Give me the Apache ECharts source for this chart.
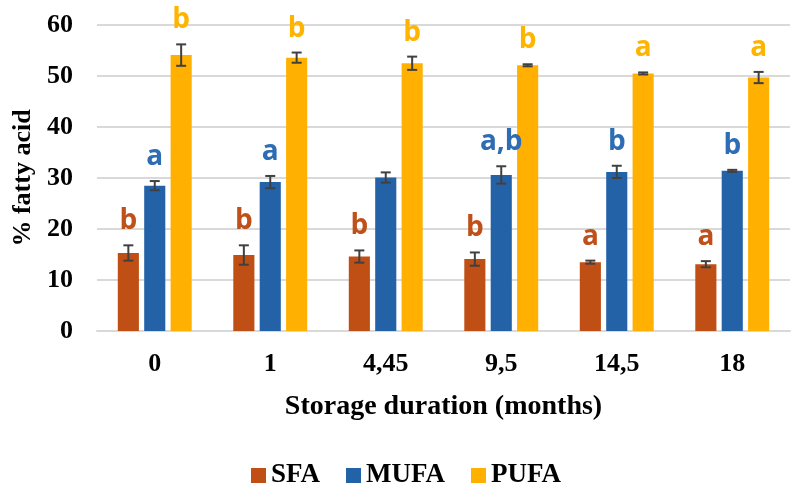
<!DOCTYPE html>
<html>
<head>
<meta charset="utf-8">
<script src="https://cdn.jsdelivr.net/npm/echarts@6/dist/echarts.min.js"></script>
<style>html,body{margin:0;padding:0;background:#fff}#c{width:792px;height:487px}</style>
</head>
<body>
<div id="c"></div>
<script>
var categories = ['0', '1', '4,45', '9,5', '14,5', '18'];
var seriesNames = ['SFA', 'MUFA', 'PUFA'];
var sfa = [15.3, 14.9, 14.6, 14.1, 13.5, 13.1];
var mufa = [28.5, 29.2, 30.1, 30.6, 31.2, 31.4];
var pufa = [54.1, 53.6, 52.5, 52.1, 50.5, 49.7];
var sfaErr = [1.5, 1.9, 1.2, 1.3, 0.3, 0.6];
var mufaErr = [0.9, 1.2, 1.0, 1.7, 1.2, 0.2];
var pufaErr = [2.1, 1.0, 1.3, 0.2, 0.2, 1.1];
var sfaLetters = ['b', 'b', 'b', 'b', 'a', 'a'];
var mufaLetters = ['a', 'a', '', 'a,b', 'b', 'b'];
var pufaLetters = ['b', 'b', 'b', 'b', 'a', 'a'];
var yTicks = [0, 10, 20, 30, 40, 50, 60];

var colors = ['#C04F15', '#2462A8', '#FFB000'];
var labelColors = ['#C0501A', '#2E6DB4', '#FFB400'];
var values = [sfa, mufa, pufa];
var errs = [sfaErr, mufaErr, pufaErr];
var letters = [sfaLetters, mufaLetters, pufaLetters];

var CAT_GAP = 0.36, BAR_GAP = 0.25, N = 3;
var serif = '"Liberation Serif", "Times New Roman", serif';

function makeErr(si) {
  return {
    type: 'custom',
    name: seriesNames[si] + ' err',
    z: 5,
    silent: true,
    data: values[si].map(function (v, i) { return [i, v, errs[si][i]]; }),
    renderItem: function (params, api) {
      var idx = api.value(0), v = api.value(1), e = api.value(2);
      var letter = letters[si][params.dataIndex];
      var band = api.size([1, 0])[0];
      var usable = band * (1 - CAT_GAP);
      var bw = usable / (N + (N - 1) * BAR_GAP);
      var center = api.coord([idx, 0])[0];
      var x = center - usable / 2 + si * bw * (1 + BAR_GAP) + bw / 2;
      var yTop = api.coord([idx, v + e])[1];
      var yBot = api.coord([idx, v - e])[1];
      var cap = 5;
      var st = { stroke: '#404040', lineWidth: 2 };
      var children = [
        { type: 'line', shape: { x1: x, y1: yTop, x2: x, y2: yBot }, style: st },
        { type: 'line', shape: { x1: x - cap, y1: yTop, x2: x + cap, y2: yTop }, style: st },
        { type: 'line', shape: { x1: x - cap, y1: yBot, x2: x + cap, y2: yBot }, style: st }
      ];
      if (letter) {
        children.push({
          type: 'text',
          style: {
            text: letter, x: x, y: yTop - 10,
            textAlign: 'center', textVerticalAlign: 'bottom',
            fill: labelColors[si],
            font: 'bold 28px "Open Sans", sans-serif'
          }
        });
      }
      return { type: 'group', children: children };
    }
  };
}

var series = [];
for (var s = 0; s < 3; s++) {
  series.push({
    type: 'bar', name: seriesNames[s], data: values[s],
    itemStyle: { color: colors[s] },
    barCategoryGap: (CAT_GAP * 100) + '%', barGap: (BAR_GAP * 100) + '%'
  });
}
for (var s2 = 0; s2 < 3; s2++) series.push(makeErr(s2));

var chart = echarts.init(document.getElementById('c'), null, { renderer: 'canvas' });
chart.setOption({
  animation: false,
  color: colors,
  grid: { left: 97, right: 2, top: 25, bottom: 156 },
  legend: {
    data: seriesNames, top: 457, left: 246,
    icon: 'rect', itemWidth: 15, itemHeight: 15, itemGap: 26,
    textStyle: { fontFamily: serif, fontWeight: 'bold', fontSize: 27, color: '#000', padding: [0, 0, 0, 0] }
  },
  xAxis: {
    type: 'category', data: categories,
    name: 'Storage duration (months)', nameLocation: 'middle', nameGap: 62,
    nameTextStyle: { fontFamily: serif, fontWeight: 'bold', fontSize: 28, color: '#000' },
    axisLine: { lineStyle: { color: '#D9D9D9', width: 2 } },
    axisTick: { show: false },
    axisLabel: { margin: 20, fontFamily: serif, fontWeight: 'bold', fontSize: 26, color: '#000' }
  },
  yAxis: {
    type: 'value', min: yTicks[0], max: yTicks[yTicks.length - 1], interval: 10,
    name: '% fatty acid', nameLocation: 'middle', nameGap: 59,
    nameTextStyle: { fontFamily: serif, fontWeight: 'bold', fontSize: 26, color: '#000' },
    axisLine: { show: false }, axisTick: { show: false },
    splitLine: { lineStyle: { color: '#D9D9D9', width: 2 } },
    axisLabel: { margin: 24, fontFamily: serif, fontWeight: 'bold', fontSize: 26, color: '#000' }
  },
  series: series
});
</script>
</body>
</html>
